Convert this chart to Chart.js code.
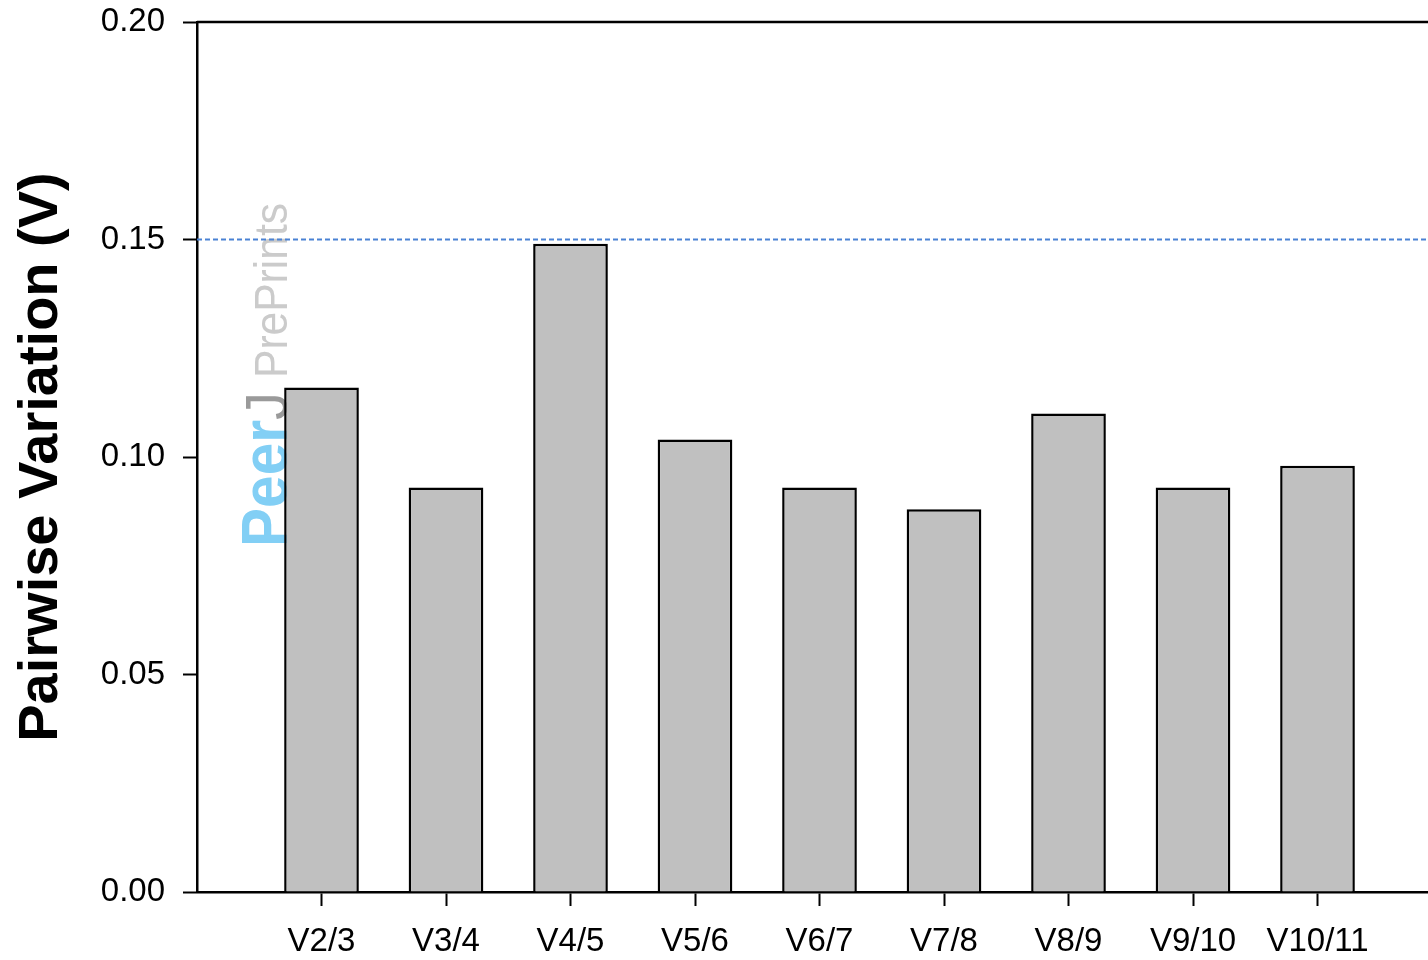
<!DOCTYPE html>
<html>
<head>
<meta charset="utf-8">
<script src="https://cdn.jsdelivr.net/npm/chart.js@4"></script>
<style>
    html, body { margin: 0; padding: 0; background: #fff; overflow: hidden; }
    #wrap { width: 1460px; height: 960px; position: relative; }
</style>
</head>
<body>
<div id="wrap"><canvas id="pairwiseChart"></canvas></div>
<script>
// Data
const categories = ['', 'V2/3', 'V3/4', 'V4/5', 'V5/6', 'V6/7', 'V7/8', 'V8/9', 'V9/10', 'V10/11', ''];
const pairwiseV = [null, 0.116, 0.093, 0.149, 0.104, 0.093, 0.088, 0.110, 0.093, 0.098, null];
const cutoffLine = [0.15, 0.15, 0.15, 0.15, 0.15, 0.15, 0.15, 0.15, 0.15, 0.15, 0.15];
const yTicks = [0.00, 0.05, 0.10, 0.15, 0.20];

const FONT = "'Liberation Sans', Arial, Helvetica, sans-serif";

// top frame line + PeerJ watermark
const framePlugin = {
    id: 'framePlugin',
    beforeDatasetsDraw(chart) {
        const ctx = chart.ctx;
        ctx.save();
        ctx.translate(287, 0);
        ctx.rotate(-Math.PI / 2);
        ctx.textBaseline = 'alphabetic';
        ctx.textAlign = 'left';
        ctx.font = "bold 64px " + FONT;
        ctx.fillStyle = '#82cff5';
        ctx.fillText('Peer', -547, 0, 127);
        ctx.font = "60px " + FONT;
        ctx.fillStyle = '#9a9a9a';
        ctx.fillText('J', -420, 0, 28);
        ctx.font = "47px " + FONT;
        ctx.fillStyle = '#cbcbcb';
        ctx.fillText('PrePrints', -378, 0, 175);
        ctx.restore();
    },
    afterDraw(chart) {
        const { ctx, chartArea } = chart;
        ctx.save();
        ctx.strokeStyle = '#000';
        ctx.lineWidth = 2.5;
        ctx.beginPath();
        ctx.moveTo(chartArea.left, chartArea.top);
        ctx.lineTo(chartArea.right, chartArea.top);
        ctx.stroke();
        ctx.restore();
    }
};

new Chart(document.getElementById('pairwiseChart'), {
    data: {
        labels: categories,
        datasets: [
            {
                type: 'line',
                label: 'cutoff',
                data: cutoffLine,
                borderColor: '#4a82d4',
                borderWidth: 2,
                borderDash: [5, 3],
                pointRadius: 0,
                fill: false,
                order: 0
            },
            {
                type: 'bar',
                label: 'Pairwise Variation',
                data: pairwiseV,
                backgroundColor: '#c0c0c0',
                borderColor: '#000',
                borderWidth: 2.5,
                categoryPercentage: 1,
                barPercentage: 0.6,
                order: 1
            }
        ]
    },
    options: {
        responsive: true,
        maintainAspectRatio: false,
        animation: false,
        layout: { padding: { top: 22, right: 18, left: 0, bottom: 0 } },
        plugins: {
            legend: { display: false },
            tooltip: { enabled: false }
        },
        scales: {
            x: {
                type: 'category',
                offset: false,
                grid: {
                    display: true,
                    offset: false,
                    drawOnChartArea: false,
                    drawTicks: true,
                    tickLength: 14,
                    tickWidth: 2,
                    tickColor: (c) => (c.index === 0 || c.index === categories.length - 1) ? 'rgba(0,0,0,0)' : '#000'
                },
                border: { display: true, color: '#000', width: 2.5 },
                ticks: {
                    color: '#000',
                    padding: 16,
                    maxRotation: 0,
                    autoSkip: false,
                    font: { family: FONT, size: 33 }
                },
                afterFit(scale) {
                    scale.height = 68;
                    scale.paddingLeft = 0;
                    scale.paddingRight = 0;
                }
            },
            y: {
                min: 0,
                max: 0.2,
                afterBuildTicks(scale) {
                    scale.ticks = yTicks.map(v => ({ value: v }));
                },
                grid: {
                    display: true,
                    drawOnChartArea: false,
                    drawTicks: true,
                    tickLength: 14,
                    tickWidth: 2,
                    tickColor: '#000'
                },
                border: { display: true, color: '#000', width: 2.5 },
                ticks: {
                    color: '#000',
                    padding: 18,
                    font: { family: FONT, size: 33 },
                    callback: (v) => Number(v).toFixed(2)
                },
                title: {
                    display: true,
                    text: 'Pairwise Variation (V)',
                    color: '#000',
                    padding: { top: 8, bottom: 0 },
                    font: { family: FONT, size: 56, weight: 'bold' }
                },
                afterFit(scale) {
                    scale.width = 197;
                    scale.paddingTop = 0;
                    scale.paddingBottom = 0;
                }
            }
        }
    },
    plugins: [framePlugin]
});
</script>
</body>
</html>
